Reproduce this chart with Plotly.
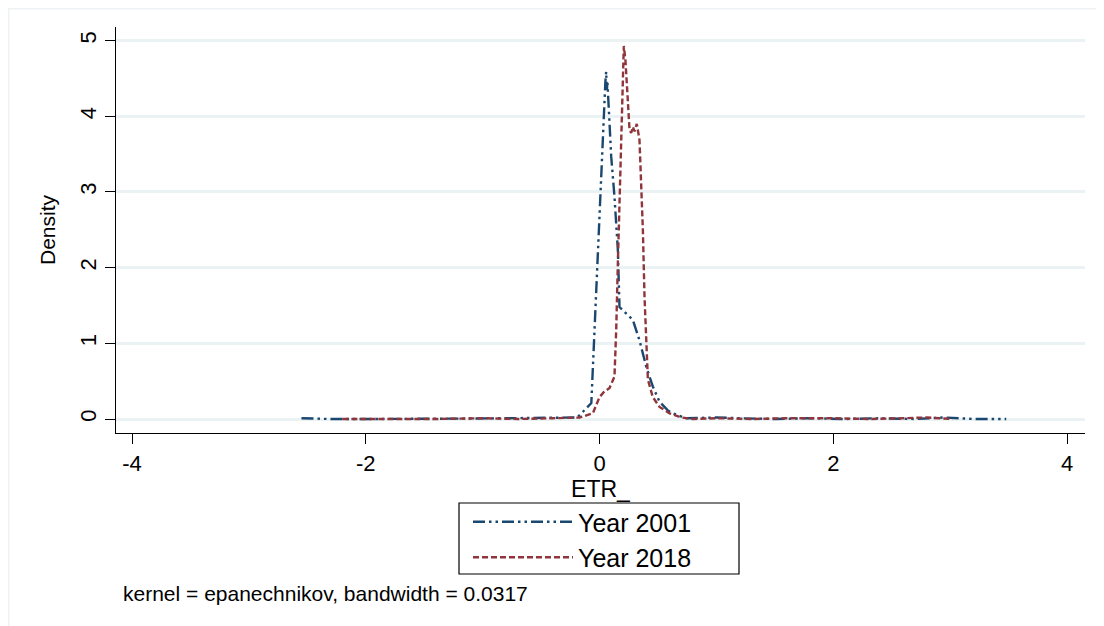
import plotly.graph_objects as go

# ---- data ----
x_2001 = [-2.55, -2.3, -2.0, -1.6, -1.2, -0.8, -0.5, -0.3, -0.19, -0.07, -0.043, -0.015,
          0.014, 0.043, 0.05, 0.057, 0.063, 0.068, 0.075, 0.1, 0.128, 0.157, 0.171,
          0.214, 0.285, 0.342, 0.4, 0.456, 0.513, 0.58, 0.627, 0.74, 0.9, 1.0, 1.2,
          1.5, 1.8, 2.1, 2.4, 2.7, 2.95, 3.2, 3.48]
d_2001 = [0.01, 0.0, 0.0, 0.0, 0.005, 0.01, 0.01, 0.02, 0.02, 0.21, 1.17, 2.15,
          3.38, 4.26, 4.45, 4.59, 4.35, 4.45, 4.2, 3.47, 2.94, 2.23, 1.48,
          1.42, 1.31, 1.04, 0.69, 0.43, 0.23, 0.12, 0.075, 0.01, 0.02, 0.02, 0.01,
          0.0, 0.01, 0.0, 0.01, 0.0, 0.02, 0.0, 0.0]

x_2018 = [-2.2, -1.8, -1.4, -1.0, -0.7, -0.4, -0.17, -0.057, 0.0, 0.04, 0.086, 0.128,
          0.143, 0.157, 0.171, 0.186, 0.2, 0.208, 0.222, 0.242, 0.257, 0.271, 0.285,
          0.3, 0.319, 0.342, 0.357, 0.371, 0.385, 0.4, 0.414, 0.456, 0.513, 0.6, 0.7,
          0.8, 1.0, 1.3, 1.6, 2.0, 2.3, 2.6, 2.8, 3.02]
d_2018 = [0.0, 0.0, 0.0, 0.01, 0.0, 0.01, 0.02, 0.075, 0.29, 0.36, 0.41, 0.56,
          1.18, 2.06, 2.94, 3.82, 4.7, 4.93, 4.74, 4.26, 3.82, 3.78, 3.86,
          3.8, 3.9, 3.69, 3.16, 2.5, 1.62, 0.96, 0.52, 0.29, 0.16, 0.075, 0.02,
          0.0, 0.01, 0.0, 0.01, 0.01, 0.0, 0.01, 0.02, 0.0]

series_names = ["Year 2001", "Year 2018"]
x_ticks = [-4, -2, 0, 2, 4]
x_tick_labels = ["-4", "-2", "0", "2", "4"]
y_ticks = [0, 1, 2, 3, 4, 5]
y_tick_labels = ["0", "1", "2", "3", "4", "5"]
note_text = "kernel = epanechnikov, bandwidth = 0.0317"

FONT = "Liberation Sans, Arial, sans-serif"
OFF = 8                      # browser body margin
W, H = 1104 - OFF, 626 - OFF
L, R, T, B = 116 - OFF, 19, 27 - OFF, 626 - 433
PW, PH = W - L - R, H - T - B


def px(page_x):
    return (page_x - OFF - L) / PW


def py(page_y):
    return 1 - (page_y - OFF - T) / PH


fig = go.Figure()
fig.add_trace(go.Scatter(x=x_2001, y=d_2001, mode="lines", name=series_names[0],
                         legendgroup="a",
                         line=dict(color="#1a476f", width=2.4,
                                   dash="12px,4px,2.5px,4px,2.5px,4px")))
fig.add_trace(go.Scatter(x=x_2018, y=d_2018, mode="lines", name=series_names[1],
                         legendgroup="b",
                         line=dict(color="#90353b", width=2.4, dash="6px,3px")))

fig.update_layout(
    width=W, height=H,
    margin=dict(l=L, r=R, t=T, b=B, autoexpand=False),
    paper_bgcolor="white", plot_bgcolor="white",
    font=dict(family=FONT, color="black"),
    showlegend=True,
    legend=dict(x=px(468), xanchor="left", y=py(499), yanchor="top",
                borderwidth=0, bgcolor="rgba(0,0,0,0)",
                font=dict(size=25, family=FONT), itemwidth=100,
                tracegroupgap=0),
    xaxis=dict(range=[-4.137, 4.154], tickvals=x_ticks, ticktext=x_tick_labels,
               ticks="outside", ticklen=10,
               tickcolor="black", showline=True, linecolor="black", linewidth=1.3,
               showgrid=False, zeroline=False, tickfont=dict(size=22),
               title=dict(text="ETR_", font=dict(size=23), standoff=2)),
    yaxis=dict(range=[-0.185, 5.18], tickvals=y_ticks, ticktext=y_tick_labels,
               ticks="outside", ticklen=10,
               tickcolor="black", showline=True, linecolor="black", linewidth=1.3,
               showgrid=True, gridcolor="#eaf2f3", gridwidth=2.5, zeroline=False,
               tickangle=-90, tickfont=dict(size=22),
               title=dict(text="Density", font=dict(size=21), standoff=14)),
    annotations=[dict(text=note_text, xref="paper", yref="paper",
                      x=px(121), y=py(593),
                      xanchor="left", yanchor="middle", showarrow=False,
                      font=dict(size=21, family=FONT))],
    shapes=[
        dict(type="rect", xref="paper", yref="paper",
             x0=px(459), x1=px(739), y0=py(574), y1=py(503),
             line=dict(color="black", width=1.2), fillcolor="rgba(0,0,0,0)"),
        dict(type="rect", xref="paper", yref="paper",
             x0=px(OFF + 0.8), x1=px(1130), y0=py(660), y1=py(OFF + 0.8),
             line=dict(color="#eef2f4", width=1.5), layer="below"),
    ],
)

fig.write_html("out.html")
